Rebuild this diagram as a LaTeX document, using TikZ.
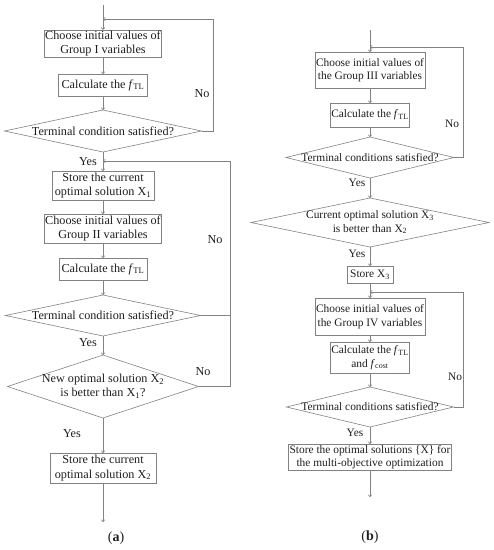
\documentclass[tikz,border=0pt]{standalone}
\usepackage{fontspec}
\setmainfont{Liberation Serif}
\usetikzlibrary{shapes.geometric,arrows.meta,positioning}
\definecolor{linegray}{RGB}{130,130,130}
\definecolor{textgray}{RGB}{30,30,30}
\newcommand{\fTL}{\textit{f}\textsubscript{TL}}
\newcommand{\fcost}{\textit{f}\textsubscript{cost}}
\newcommand{\Xs}[1]{X\textsubscript{#1}}

\begin{document}
\begin{tikzpicture}[x=1pt,y=-1pt]
          %% FLOWCHARTS

          \tikzstyle{flow}=[draw=linegray,line width=0.6pt,->,>={To[length=2.5pt,width=4pt]}]
          \tikzstyle{line}=[draw=linegray,line width=0.6pt]
          \tikzstyle{box}=[draw=linegray,line width=0.6pt,rectangle,inner sep=1pt,outer sep=0pt,align=center,text=textgray]
          \tikzstyle{decision}=[draw=linegray,line width=0.6pt,diamond,inner sep=0pt,outer sep=0pt]
          \tikzstyle{dtext}=[align=center,text=textgray,inner sep=0pt]
          \tikzstyle{tag}=[text=textgray,inner sep=0pt]
          \tikzstyle{lfont}=[font=\fontsize{12.2}{14.2}\selectfont]
          \tikzstyle{rfont}=[font=\fontsize{11.4}{13.4}\selectfont]

          \useasboundingbox (0,0) rectangle (494,550);

          % column (a)
          \coordinate (A0) at (103,5);
          \node[box,lfont,minimum width=116,minimum height=27] (A1) at (103,43.5) {Choose initial values of\\Group I variables};
          \node[box,lfont,minimum width=89,minimum height=22] (A2) at (103,85) {Calculate the \fTL};
          \node[decision,minimum width=197,minimum height=42,
                label={[dtext,lfont]center:Terminal condition satisfied?}] (A3) at (103,131) {};
          \node[box,lfont,minimum width=102,minimum height=29] (A4) at (103,185.5) {Store the current\\optimal solution \Xs{1}};
          \node[box,lfont,minimum width=116,minimum height=29] (A5) at (103,228.5) {Choose initial values of\\Group II variables};
          \node[box,lfont,minimum width=88,minimum height=22] (A6) at (103,269) {Calculate the \fTL};
          \node[decision,minimum width=195,minimum height=41,
                label={[dtext,lfont]center:Terminal condition satisfied?}] (A7) at (103,315.5) {};
          \node[decision,minimum width=191,minimum height=63,
                label={[dtext,lfont]center:New optimal solution \Xs{2}\\is better than \Xs{1}?}] (A8) at (103,386.5) {};
          \node[box,lfont,minimum width=106,minimum height=30] (A9) at (103,468) {Store the current\\optimal solution \Xs{2}};
          \coordinate (A10) at (103,522);

          % loops of column (a)
          \coordinate (AJ1) at (103,19);
          \coordinate (AR1) at (213,19);
          \coordinate (AJ2) at (103,161);
          \coordinate (AR2) at (230,161);

          \draw[flow] (A0) -- (A1);
          \draw[flow] (A1) -- (A2);
          \draw[flow] (A2) -- (A3);
          \draw[flow] (A3) -- (A4);
          \draw[flow] (A4) -- (A5);
          \draw[flow] (A5) -- (A6);
          \draw[flow] (A6) -- (A7);
          \draw[flow] (A7) -- (A8);
          \draw[flow] (A8) -- (A9);
          \draw[flow] (A9) -- (A10);
          \draw[flow] (A3.east) -| (AR1) -- (AJ1);
          \draw[flow] (A8.east) -| (AR2) -- (AJ2);
          \draw[line] (A7.east) -- (A7.east -| AR2);

          \node[tag,lfont] (AN1) at (202,94) {No};
          \node[tag,lfont] (AN2) at (215,240) {No};
          \node[tag,lfont] (AN3) at (203,372) {No};
          \node[tag,lfont] (AY1) at (88,162) {Yes};
          \node[tag,lfont] (AY2) at (88,343) {Yes};
          \node[tag,lfont] (AY3) at (72,434) {Yes};
          \node[tag,font=\fontsize{14}{16}\selectfont] (Acap) at (116,538) {(\textbf{a})};

          % column (b)
          \coordinate (B0) at (370,30);
          \node[box,rfont,minimum width=110,minimum height=36] (B1) at (370,70) {Choose initial values of\\the Group III variables};
          \node[box,rfont,minimum width=79,minimum height=24] (B2) at (370,115) {Calculate the \fTL};
          \node[decision,minimum width=168,minimum height=41,
                label={[dtext,rfont]center:Terminal conditions satisfied?}] (B3) at (370,157.5) {};
          \node[decision,minimum width=238,minimum height=49,
                label={[dtext,rfont]center:Current optimal solution \Xs{3}\\is better than \Xs{2}}] (B4) at (370,222.5) {};
          \node[box,rfont,minimum width=46,minimum height=17] (B5) at (370,274.5) {Store \Xs{3}};
          \node[box,rfont,minimum width=109,minimum height=37] (B6) at (370,316.5) {Choose initial values of\\the Group IV variables};
          \node[box,rfont,minimum width=78,minimum height=31] (B7) at (370,357.5) {Calculate the \fTL\\and \fcost};
          \node[decision,minimum width=167,minimum height=40,
                label={[dtext,rfont]center:Terminal conditions satisfied?}] (B8) at (370,407) {};
          \node[box,rfont,minimum width=163,minimum height=26] (B9) at (370,457) {Store the optimal solutions \{X\} for\\the multi-objective optimization};
          \coordinate (B10) at (370,497);

          % loops of column (b)
          \coordinate (BJ1) at (370,47);
          \coordinate (BR1) at (463,47);
          \coordinate (BJ2) at (370,292);
          \coordinate (BR2) at (463,292);

          \draw[flow] (B0) -- (B1);
          \draw[flow] (B1) -- (B2);
          \draw[flow] (B2) -- (B3);
          \draw[flow] (B3) -- (B4);
          \draw[flow] (B4) -- (B5);
          \draw[flow] (B5) -- (B6);
          \draw[flow] (B6) -- (B7);
          \draw[flow] (B7) -- (B8);
          \draw[flow] (B8) -- (B9);
          \draw[flow] (B9) -- (B10);
          \draw[flow] (B3.east) -| (BR1) -- (BJ1);
          \draw[flow] (B8.east) -| (BR2) -- (BJ2);

          \node[tag,rfont] (BN1) at (452,124) {No};
          \node[tag,rfont] (BN2) at (455,377) {No};
          \node[tag,rfont] (BY1) at (357,183) {Yes};
          \node[tag,rfont] (BY2) at (357,254) {Yes};
          \node[tag,rfont] (BY3) at (355,433) {Yes};
          \node[tag,font=\fontsize{14}{16}\selectfont] (Bcap) at (370,537) {(\textbf{b})};
\end{tikzpicture}
\end{document}
